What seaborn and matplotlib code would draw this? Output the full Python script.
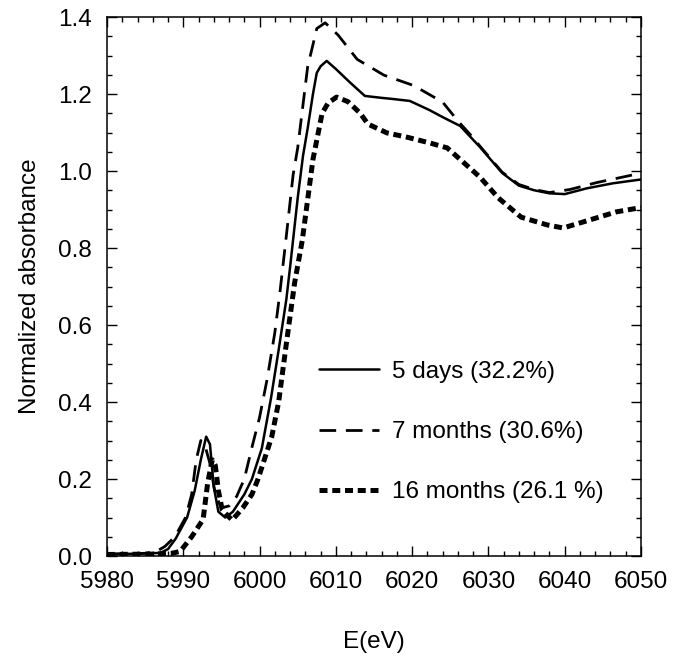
import matplotlib
matplotlib.use("Agg")
import matplotlib.pyplot as plt
import seaborn as sns
import numpy as np
from matplotlib.ticker import MultipleLocator, FormatStrFormatter

# ---- data ----
e_5d = [5980, 5984, 5987, 5988, 5989, 5990.5, 5991.5, 5992.3, 5993.0, 5993.5, 5994.0, 5994.6,
        5995.5, 5996.5, 5998.0, 5999.0, 6000.3, 6001.5, 6002.5, 6003.5, 6004.0, 6005.0, 6005.7,
        6006.3, 6007.0, 6007.5, 6008.0, 6008.8, 6010.0, 6011.8, 6013.8, 6016.0, 6017.5, 6019.7,
        6022.3, 6024.0, 6026.3, 6028.9, 6031.8, 6034.0, 6036.0, 6038.0, 6040.0, 6042.9, 6046.3, 6050.0]
a_5d = [0.005, 0.006, 0.008, 0.018, 0.045, 0.10, 0.17, 0.25, 0.31, 0.29, 0.18, 0.115,
        0.10, 0.115, 0.16, 0.20, 0.28, 0.41, 0.535, 0.665, 0.75, 0.93, 1.04,
        1.11, 1.20, 1.255, 1.272, 1.286, 1.265, 1.231, 1.195, 1.19, 1.187, 1.182,
        1.158, 1.14, 1.117, 1.062, 0.995, 0.962, 0.95, 0.942, 0.940, 0.955, 0.968, 0.978]

e_7m = [5980, 5985, 5986.5, 5987.6, 5988.9, 5990.3, 5991.1, 5991.7, 5992.3, 5992.8, 5993.5, 5994.2,
        5995.0, 5996.0, 5997.0, 5998.0, 5999.1, 6000.0, 6001.0, 6002.0, 6002.7, 6003.5, 6004.4,
        6005.0, 6006.3, 6007.5, 6008.6, 6010.3, 6012.8, 6016.3, 6020.2, 6024.0, 6026.0, 6027.6,
        6029.0, 6031.8, 6034.0, 6036.0, 6038.0, 6040.7, 6044.2, 6048.5, 6050.0]
a_7m = [0.005, 0.007, 0.012, 0.025, 0.05, 0.10, 0.16, 0.25, 0.30, 0.29, 0.24, 0.16,
        0.125, 0.13, 0.155, 0.20, 0.29, 0.36, 0.46, 0.58, 0.69, 0.83, 0.99,
        1.06, 1.27, 1.37, 1.385, 1.353, 1.29, 1.249, 1.222, 1.179, 1.13, 1.095,
        1.062, 0.997, 0.965, 0.952, 0.944, 0.952, 0.970, 0.988, 0.995]

e_16m = [5980, 5986, 5988.5, 5989.6, 5991.1, 5992.6, 5993.2, 5993.8, 5994.2, 5994.6, 5995.1, 5996.4,
         5997.8, 5999.0, 5999.8, 6001.6, 6002.5, 6003.5, 6004.6, 6005.6, 6007.0, 6008.2, 6009.0,
         6010.1, 6011.6, 6013.2, 6014.2, 6016.7, 6019.3, 6022.3, 6024.6, 6026.7, 6028.9, 6031.3,
         6034.3, 6037.7, 6039.8, 6043.3, 6046.8, 6050.0]
a_16m = [0.004, 0.005, 0.007, 0.012, 0.05, 0.095, 0.19, 0.25, 0.235, 0.17, 0.12, 0.093,
         0.125, 0.16, 0.20, 0.31, 0.40, 0.55, 0.71, 0.82, 1.03, 1.15, 1.177,
         1.192, 1.18, 1.15, 1.122, 1.099, 1.088, 1.073, 1.06, 1.023, 0.984, 0.93,
         0.88, 0.86, 0.852, 0.873, 0.894, 0.905]

labels = ["5 days (32.2%)", "7 months (30.6%)", "16 months (26.1 %)"]
x_ticks = [5980, 5990, 6000, 6010, 6020, 6030, 6040, 6050]
y_ticks = [0.0, 0.2, 0.4, 0.6, 0.8, 1.0, 1.2, 1.4]

# ---- style ----
sns.set_style("ticks")
plt.rcParams['font.family'] = ['Liberation Sans', 'DejaVu Sans']
plt.rcParams['text.color'] = 'black'
plt.rcParams['axes.labelcolor'] = 'black'
plt.rcParams['xtick.color'] = 'black'
plt.rcParams['ytick.color'] = 'black'
FS = 17.5

fig = plt.figure(figsize=(6.75, 6.67), dpi=100)
ax = fig.add_axes([0.1585, 0.1664, 0.7911, 0.8081])

sns.lineplot(x=e_5d, y=a_5d, ax=ax, color="black", lw=1.8, sort=False,
             label=labels[0], linestyle="-")
sns.lineplot(x=e_7m, y=a_7m, ax=ax, color="black", lw=2.0, sort=False,
             label=labels[1], linestyle=(0, (6.0, 3.5)))
sns.lineplot(x=e_16m, y=a_16m, ax=ax, color="black", lw=3.6, sort=False,
             label=labels[2], linestyle=(0, (1.6, 0.95)))

ax.set_xlim(5980, 6050)
ax.set_ylim(0, 1.4)
ax.set_xticks(x_ticks)
ax.set_yticks(y_ticks)
ax.xaxis.set_minor_locator(MultipleLocator(2))
ax.yaxis.set_minor_locator(MultipleLocator(0.05))
ax.yaxis.set_major_formatter(FormatStrFormatter('%.1f'))
ax.tick_params(which='both', direction='in', top=True, right=True, color='black',
               labelcolor='black', width=1.0)
ax.tick_params(which='major', length=7, labelsize=FS, pad=11)
ax.tick_params(which='minor', length=3.5)
for sp in ax.spines.values():
    sp.set_linewidth(1.1)
    sp.set_color('black')

ax.set_xlabel("E(eV)", fontsize=FS, labelpad=27, color='black')
ax.set_ylabel("Normalized absorbance", fontsize=FS, labelpad=12, color='black')

leg = ax.legend(loc='center left', bbox_to_anchor=(0.375, 0.23), frameon=False,
                fontsize=FS, handlelength=2.47, handletextpad=0.5, labelspacing=1.58,
                borderpad=0)
for t in leg.get_texts():
    t.set_color('black')

fig.savefig("out.png", dpi=100)
